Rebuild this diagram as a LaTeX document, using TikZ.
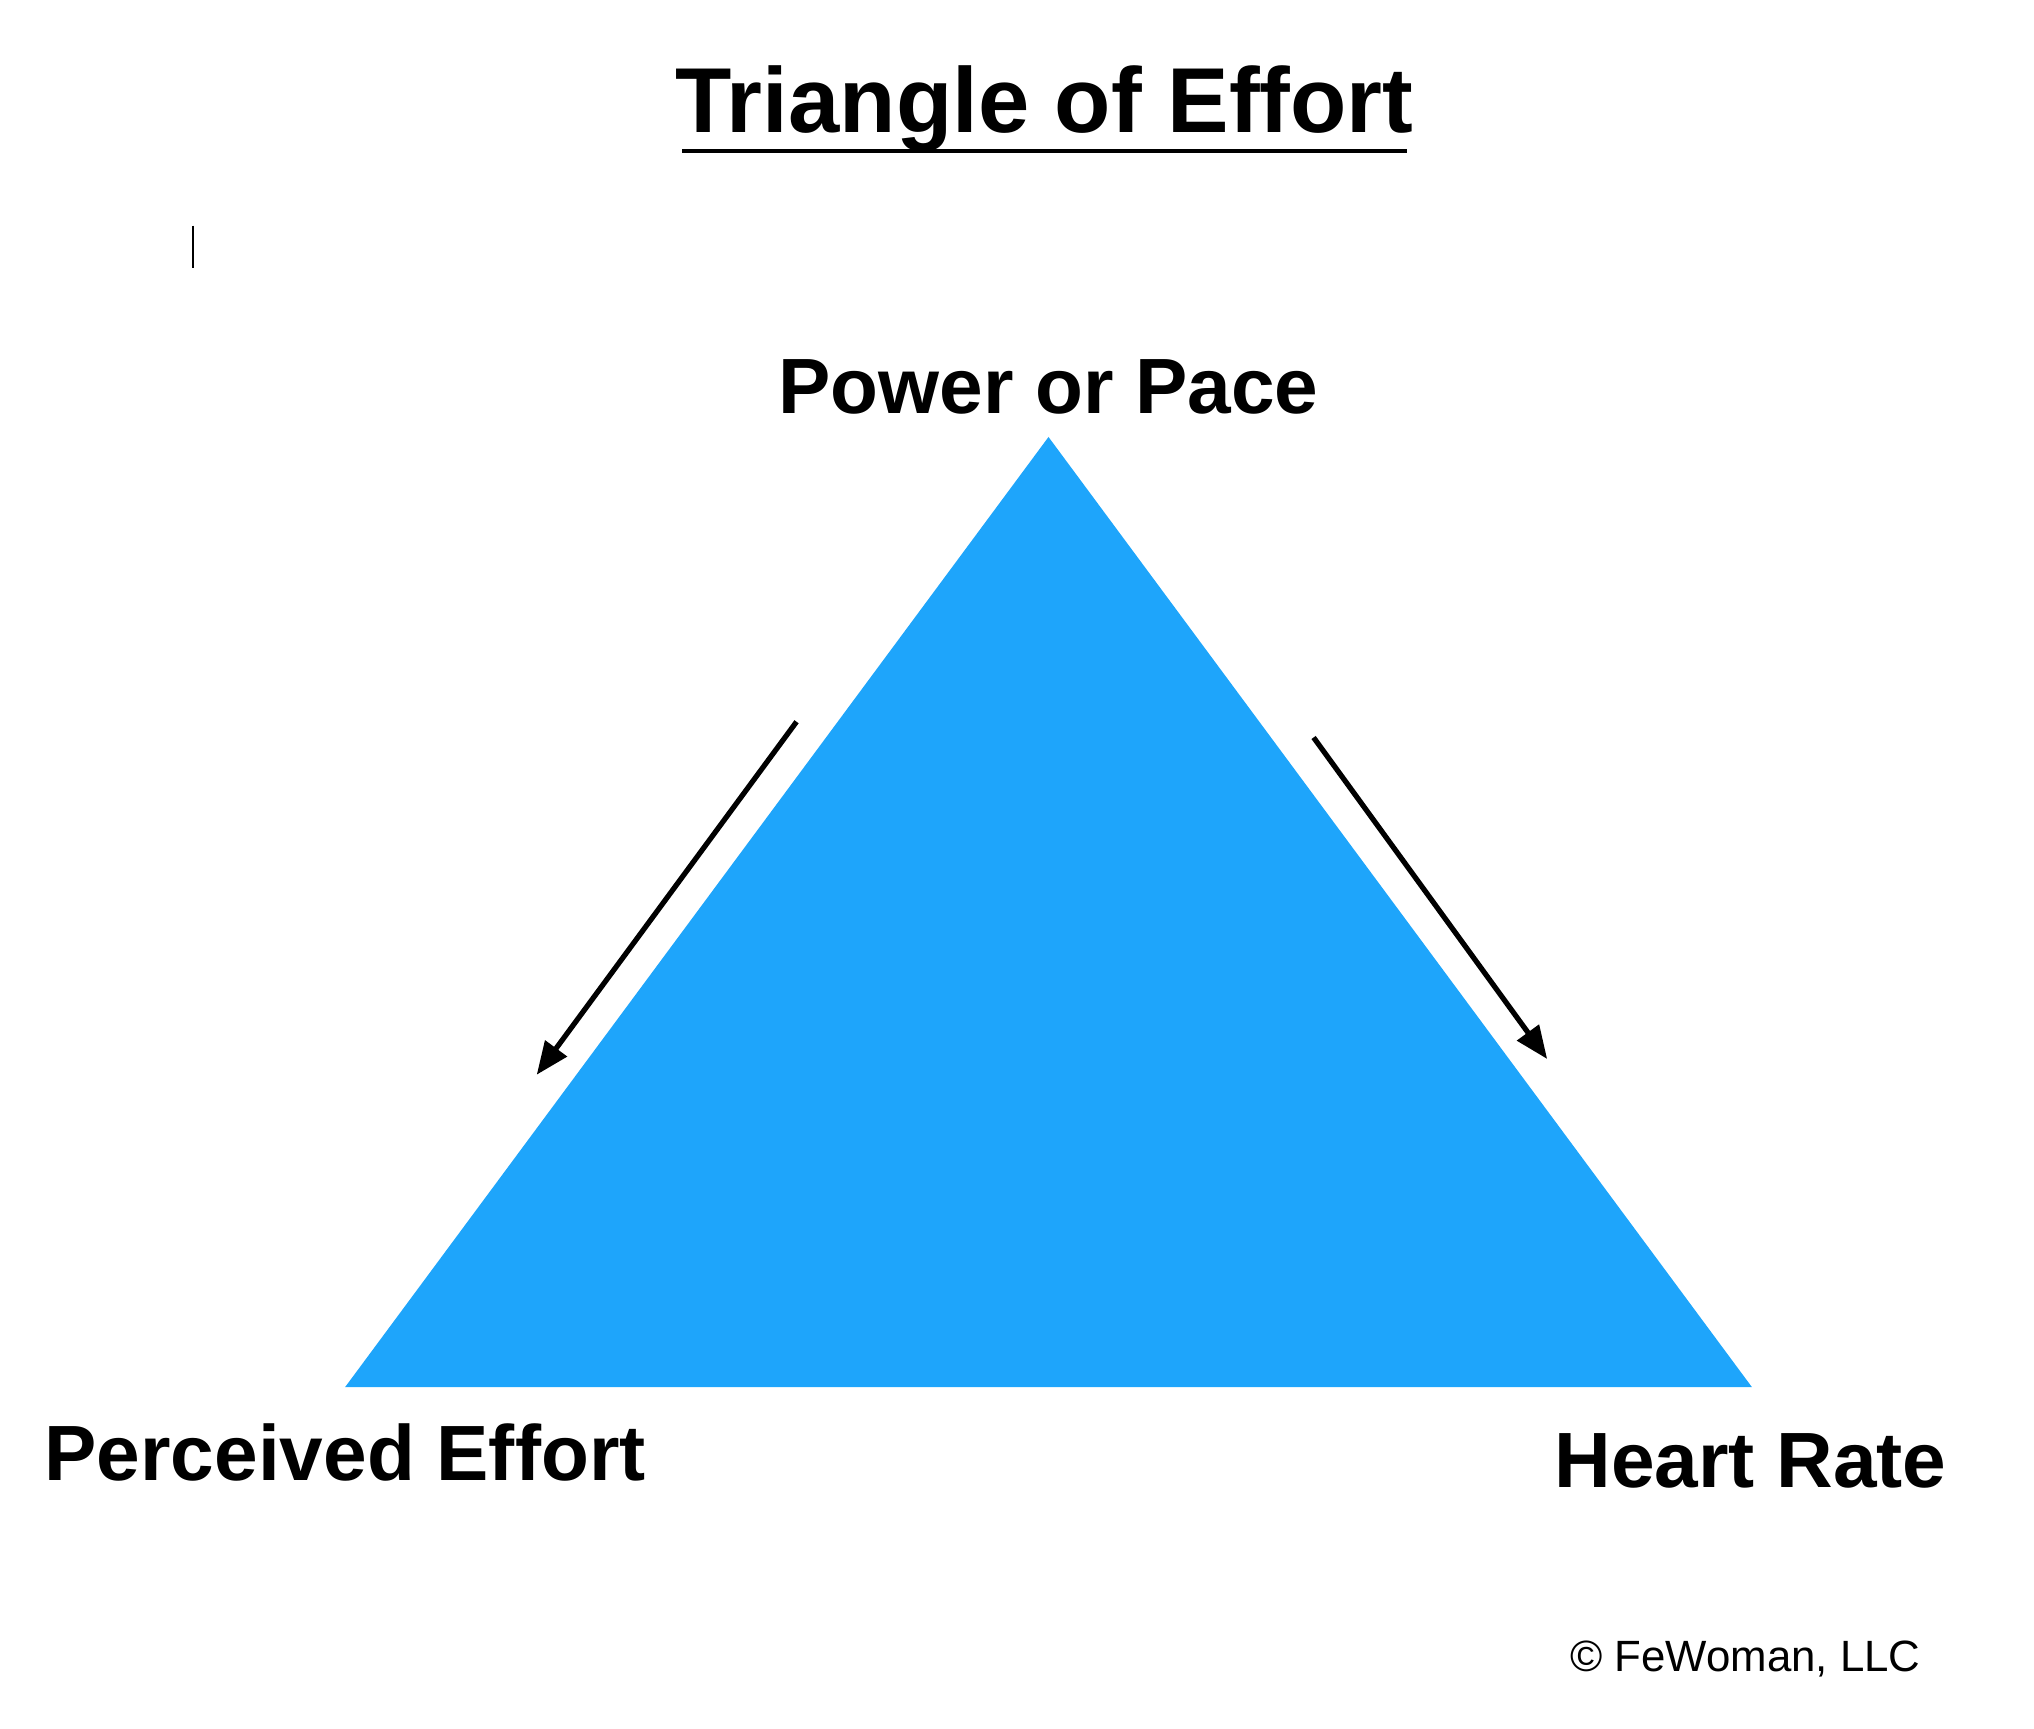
\documentclass[tikz,border=0pt]{standalone}
\usepackage{fontspec}
\setmainfont{Liberation Sans}
\usetikzlibrary{arrows.meta}
\definecolor{tri}{HTML}{1EA5FB}
\begin{document}
\begin{tikzpicture}[x=0.02cm,y=-0.02cm,
  lbl/.style={font=\fontsize{34}{40}\selectfont\bfseries, inner sep=0},
  arr/.style={line width=0.08cm,-{Triangle[length=0.5cm,width=0.4cm]}}]
\useasboundingbox (0,0) rectangle (1550,1317);
\fill[tri] (799,333) -- (263,1057) -- (1335,1057) -- cycle;
\node[inner sep=0, font=\fontsize{40}{48}\selectfont\bfseries] (title) at (796,83) {Triangle of Effort};
\draw[line width=0.06cm] (520,115) -- (1072,115);
\draw[line width=0.04cm] (147,172) -- (147,204);
\node[lbl] (top) at (799,295) {Power or Pace};
\node[lbl] (pe) at (263,1107) {Perceived Effort};
\node[lbl] (hr) at (1334,1113) {Heart Rate};
\node[inner sep=0, font=\fontsize{19}{23}\selectfont] (copy) at (1330,1264) {© FeWoman, LLC};
\coordinate (a1) at (607,550); \coordinate (a2) at (409,819);
\coordinate (b1) at (1001,562); \coordinate (b2) at (1179,807);
\draw[arr] (a1) -- (a2);
\draw[arr] (b1) -- (b2);
\end{tikzpicture}
\end{document}
